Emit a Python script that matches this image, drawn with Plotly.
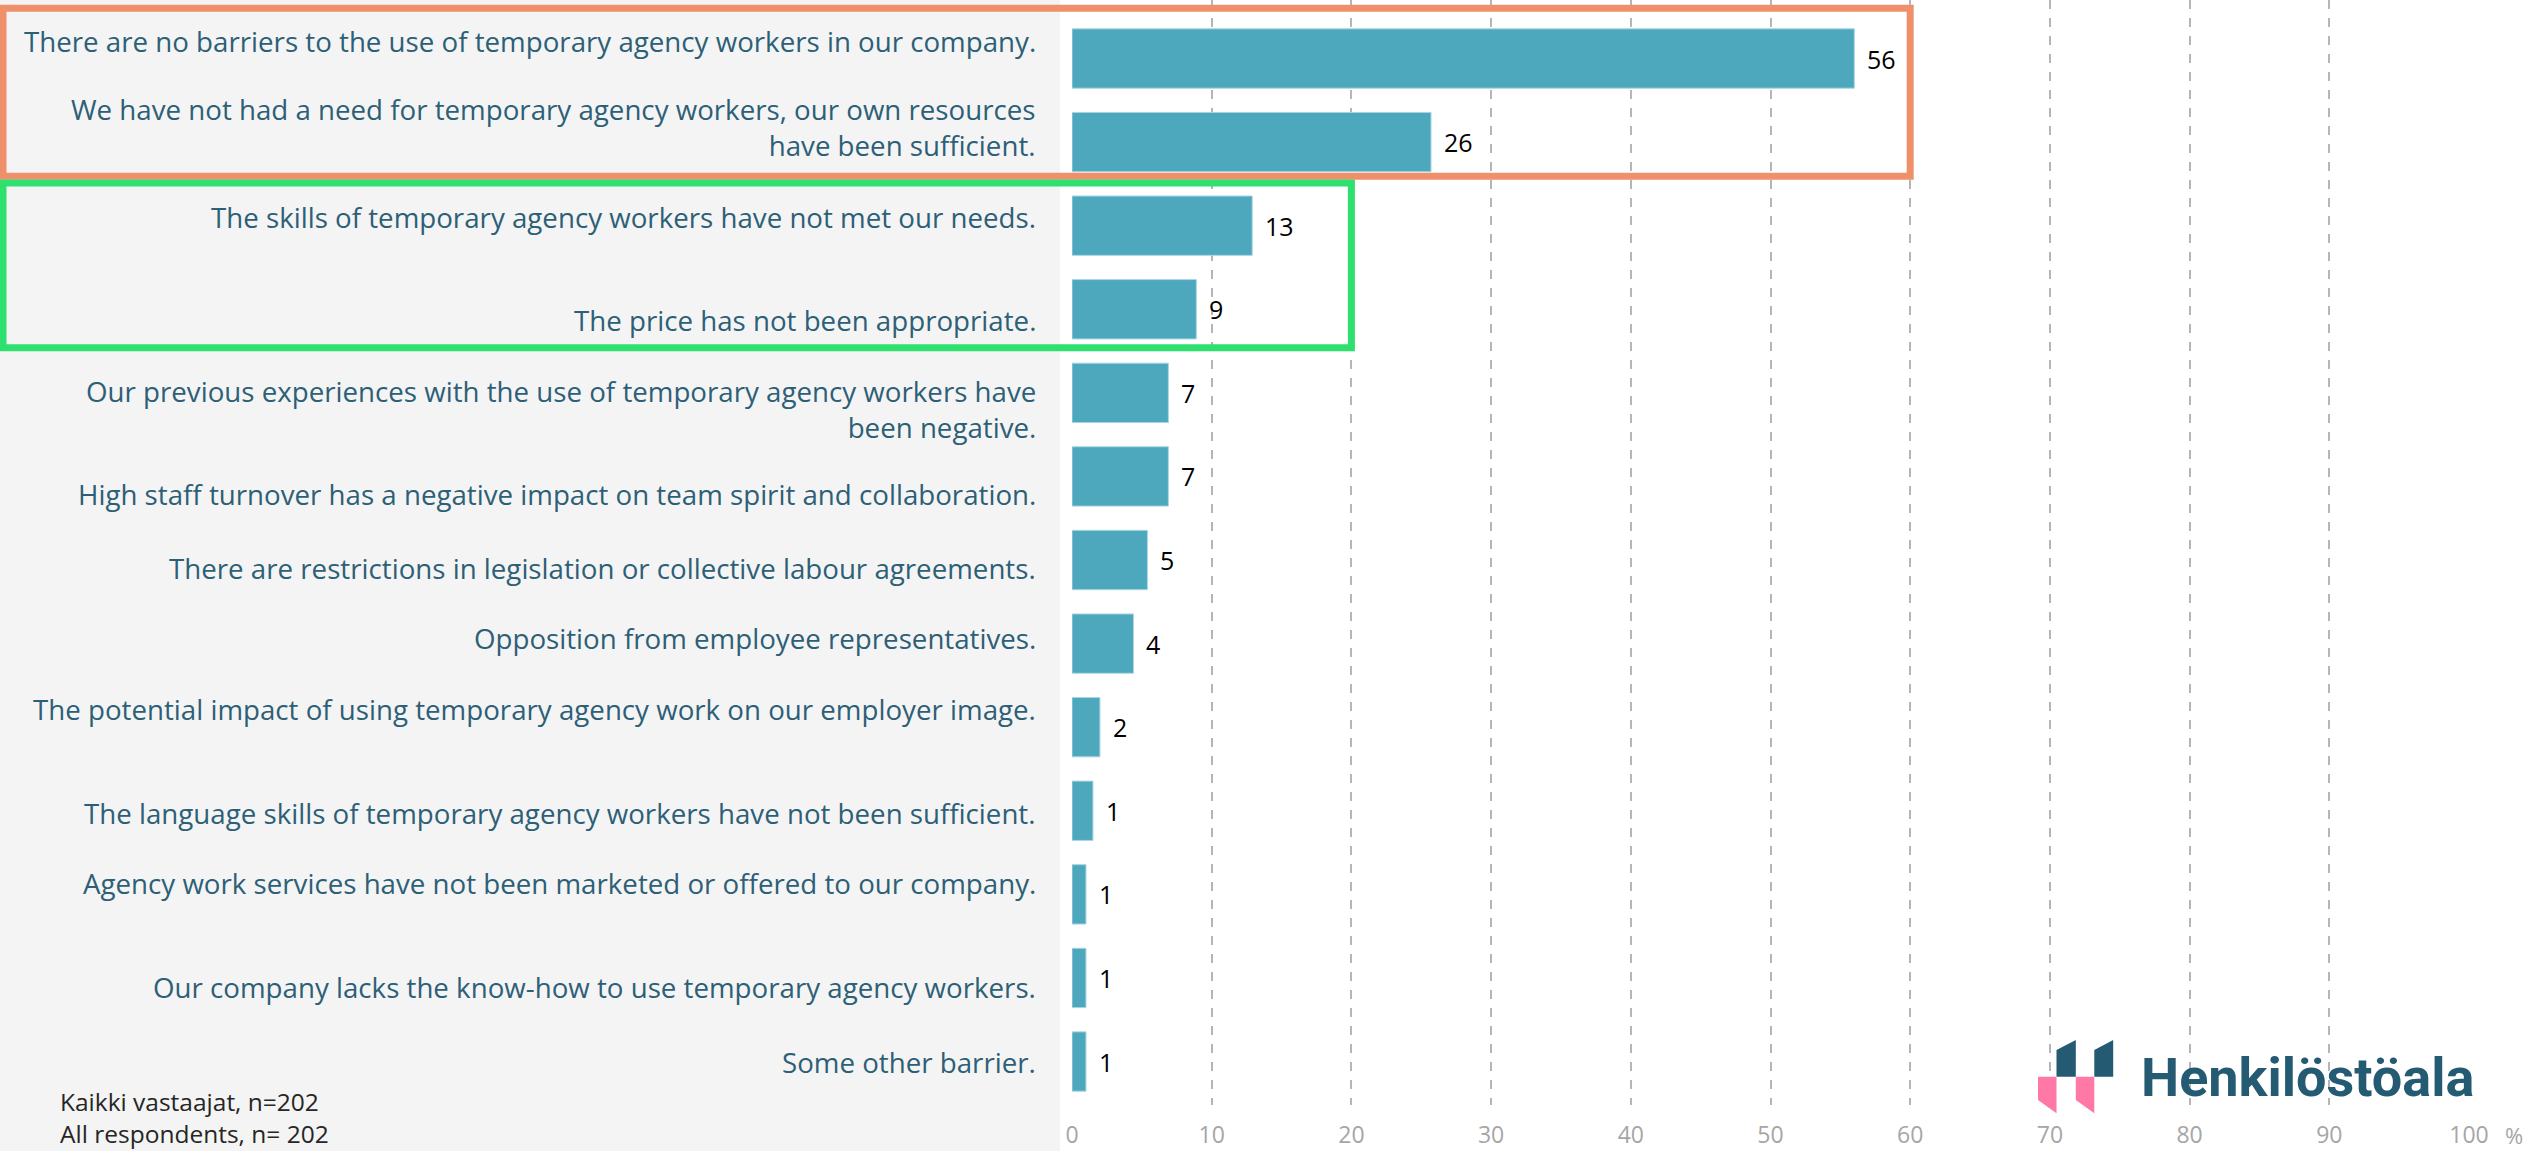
import plotly.graph_objects as go

# --- data ---
categories = [
    "There are no barriers to the use of temporary agency workers in our company.",
    "We have not had a need for temporary agency workers, our own resources<br>have been sufficient.",
    "The skills of temporary agency workers have not met our needs.",
    "The price has not been appropriate.",
    "Our previous experiences with the use of temporary agency workers have<br>been negative.",
    "High staff turnover has a negative impact on team spirit and collaboration.",
    "There are restrictions in legislation or collective labour agreements.",
    "Opposition from employee representatives.",
    "The potential impact of using temporary agency work on our employer image.",
    "The language skills of temporary agency workers have not been sufficient.",
    "Agency work services have not been marketed or offered to our company.",
    "Our company lacks the know-how to use temporary agency workers.",
    "Some other barrier.",
]
values = [56.0, 25.7, 12.9, 8.9, 6.9, 6.9, 5.4, 4.4, 2.0, 1.5, 1.0, 1.0, 1.0]
value_labels = ["56", "26", "13", "9", "7", "7", "5", "4", "2", "1", "1", "1", "1"]
tick_vals = [0, 10, 20, 30, 40, 50, 60, 70, 80, 90, 100]
footnote = ["Kaikki vastaajat, n=202", "All respondents, n= 202"]

# label offsets in px (positive = down), the labels in the original are not centred
label_nudge = [-18, -15, -9, 11, 16, 18, 8, -6, -18, 2, -11, 9, 0]

W, H = 2539, 1151
L, R, T, B = 1072, 70, 0, 46
PW = W - L - R
PH = H - T - B

BAR = "#4DA8BE"
TEXT = "#2D5F77"
LOGO = "#245B73"
PINK = "#FF78A6"


def px(x):
    return (x - L) / PW


def py(y):
    return 1 - (y - T) / PH


fig = go.Figure()
fig.add_trace(go.Bar(
    x=values, y=categories, orientation="h",
    marker=dict(color=BAR, line=dict(color="#a9d6e1", width=1)),
    width=0.71, hoverinfo="skip",
))

ann = []
for c, nud in zip(categories, label_nudge):
    ann.append(dict(x=0, xref="paper", y=c, yref="y", text=c, showarrow=False,
                    xanchor="right", yanchor="middle", align="right",
                    xshift=-(L - 1038), yshift=-nud,
                    font=dict(family="Open Sans", size=27.7, color=TEXT)))
for c, v, t in zip(categories, values, value_labels):
    ann.append(dict(x=v, xref="x", y=c, yref="y", text=t, showarrow=False,
                    xanchor="left", yanchor="middle", xshift=11,
                    font=dict(family="Open Sans", size=25, color="#000000")))

ann.append(dict(x=px(2514), y=py(1135), xref="paper", yref="paper", text="%",
                showarrow=False, xanchor="center", yanchor="middle",
                font=dict(family="Open Sans", size=22, color="#a6a6a6")))
ann.append(dict(x=px(58), y=py(1117), xref="paper", yref="paper", text="<br>".join(footnote),
                showarrow=False, xanchor="left", yanchor="middle", align="left",
                font=dict(family="Open Sans", size=24.5, color="#262626")))
ann.append(dict(x=px(2139), y=py(1077), xref="paper", yref="paper", text="<b>Henkilöstöala</b>",
                showarrow=False, xanchor="left", yanchor="middle",
                font=dict(family="Roboto", size=54, color=LOGO)))

shapes = [
    # grey label panel
    dict(type="rect", xref="paper", yref="paper", x0=px(0), x1=px(1060), y0=py(H), y1=py(0),
         fillcolor="#f4f4f4", line=dict(width=0), layer="below"),
    # highlight boxes
    dict(type="rect", xref="paper", yref="y", x0=px(3), x1=0.6, y0=-0.6, y1=1.41,
         line=dict(color="#F0906A", width=7)),
    dict(type="rect", xref="paper", yref="y", x0=px(3), x1=0.2, y0=1.49, y1=3.46,
         line=dict(color="#2EE06E", width=7)),
]


def poly(pts, color):
    d = "M " + " L ".join(f"{px(a):.5f},{py(b):.5f}" for a, b in pts) + " Z"
    return dict(type="path", xref="paper", yref="paper", path=d,
                fillcolor=color, line=dict(width=0))


# logo mark
shapes.append(poly([(2056.5, 1076.7), (2056.5, 1050), (2075.8, 1040), (2075.8, 1076.7)], LOGO))
shapes.append(poly([(2094.3, 1076.7), (2094.3, 1050), (2113.2, 1040), (2113.2, 1076.7)], LOGO))
shapes.append(poly([(2038, 1076.7), (2056.5, 1076.7), (2056.5, 1113.3), (2038, 1100)], PINK))
shapes.append(poly([(2075.8, 1076.7), (2094.3, 1076.7), (2094.3, 1113.3), (2075.8, 1100)], PINK))

fig.update_layout(
    width=W, height=H,
    margin=dict(l=L, r=R, t=T, b=B, autoexpand=False),
    paper_bgcolor="white", plot_bgcolor="white",
    showlegend=False,
    bargap=0.29,
    annotations=ann, shapes=shapes,
    font=dict(family="Open Sans"),
    xaxis=dict(range=[0, 100], tickvals=tick_vals, showgrid=True, gridcolor="#b5b5b5",
               griddash="dash", gridwidth=1.5, zeroline=False, showline=False,
               ticks="", ticklabelstandoff=14,
               tickfont=dict(family="Open Sans", size=23, color="#a6a6a6")),
    yaxis=dict(range=[12.52, -0.7], showticklabels=False, showgrid=False,
               zeroline=False, showline=False, ticks=""),
)

fig.write_html("out.html", config={"displayModeBar": False},
               post_script="document.body.style.margin='0';")
